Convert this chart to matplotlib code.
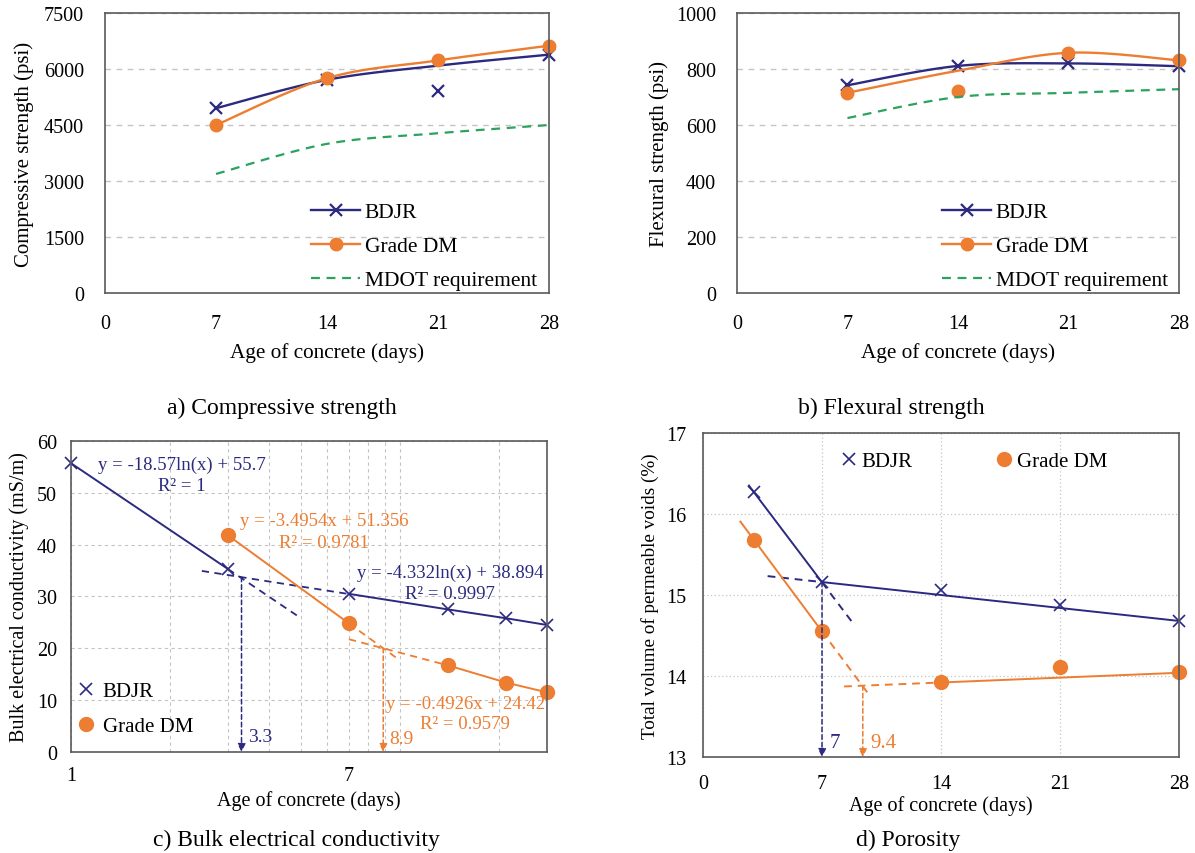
import numpy as np
import matplotlib.pyplot as plt
from matplotlib.lines import Line2D
from matplotlib.ticker import NullFormatter

plt.rcParams['font.family'] = ['Liberation Serif', 'DejaVu Serif']

NAVY = '#2b2a80'
ORANGE = '#ed7d31'
GREEN = '#2ca25f'
GRID = '#c4c4c4'
SPINE = '#5a5a5a'

# ---- panel a: compressive strength (psi)
days = [7, 14, 21, 28]
a_bdjr_pts = [4950, 5710, 5420, 6385]
a_bdjr_line = [4950, 5710, 6090, 6385]
a_dm = [4500, 5755, 6230, 6625]
a_mdot = [3190, 3995, 4280, 4500]

# ---- panel b: flexural strength (psi)
b_bdjr = [742, 811, 820, 810]
b_dm_pts = [715, 722, 858, 831]
b_dm_line = [715, 794, 858, 831]
b_mdot = [625, 700, 715, 728]

# ---- panel c: bulk electrical conductivity (mS/m)
c_bdjr_days = [1, 3, 7, 14, 21, 28]
c_bdjr = [55.7, 35.3, 30.5, 27.5, 25.8, 24.5]
c_dm_days = [3, 7, 14, 21, 28]
c_dm = [41.8, 24.8, 16.7, 13.4, 11.5]
c_bdjr_fit1 = (-18.57, 55.7)    # y = a ln(x) + b
c_bdjr_fit2 = (-4.332, 38.894)
c_bdjr_knee = 3.3
c_dm_knee = (8.9, 20.0)

# ---- panel d: porosity (%)
d_days = [3, 7, 14, 21, 28]
d_bdjr = [16.27, 15.16, 15.06, 14.88, 14.68]
d_dm = [15.68, 14.55, 13.92, 14.11, 14.05]
d_bdjr_fit1 = (-0.2775, 17.10)  # y = a x + b
d_bdjr_fit2 = (-0.02286, 15.32)
d_dm_fit1 = (-0.2825, 16.5275)
d_dm_fit2 = (0.00857, 13.80)
d_bdjr_knee = 7
d_dm_knee = 9.4


def smooth(x, y, n=40):
    """Excel-like smoothed line (Catmull-Rom through the points)."""
    x = np.asarray(x, float)
    y = np.asarray(y, float)
    px = np.concatenate([[x[0]], x, [x[-1]]])
    py = np.concatenate([[y[0]], y, [y[-1]]])
    xs, ys = [], []
    t = np.linspace(0, 1, n)
    for i in range(1, len(px) - 2):
        for p, out in ((px, xs), (py, ys)):
            p0, p1, p2, p3 = p[i - 1], p[i], p[i + 1], p[i + 2]
            c1 = p1 + (p2 - p0) / 6
            c2 = p2 - (p3 - p1) / 6
            out.extend((1 - t) ** 3 * p1 + 3 * (1 - t) ** 2 * t * c1
                       + 3 * (1 - t) * t ** 2 * c2 + t ** 3 * p2)
    return np.array(xs), np.array(ys)


def style(ax, pad=12):
    for s in ax.spines.values():
        s.set_color(SPINE)
        s.set_linewidth(1.2)
    ax.tick_params(length=0, labelsize=14.5, pad=pad, which='both')


fig = plt.figure(figsize=(11.95, 8.54), dpi=100)
ax_a = fig.add_axes([0.0879, 0.6557, 0.3715, 0.3279])
ax_b = fig.add_axes([0.6167, 0.6557, 0.3699, 0.3279])
ax_c = fig.add_axes([0.0594, 0.1183, 0.3983, 0.3642])
ax_d = fig.add_axes([0.5883, 0.1124, 0.3983, 0.3794])

# ---------------- a
ax = ax_a
ax.plot(*smooth(days, a_bdjr_line), color=NAVY, lw=1.7)
ax.plot(days, a_bdjr_pts, ls='none', marker='x', ms=9, mew=1.6, color=NAVY, clip_on=False)
ax.plot(*smooth(days, a_dm), color=ORANGE, lw=1.7)
ax.plot(days, a_dm, ls='none', marker='o', ms=9, color=ORANGE, clip_on=False)
ax.plot(*smooth(days, a_mdot), color=GREEN, lw=1.6, ls=(0, (4, 3)))
ax.set_xlim(0, 28)
ax.set_ylim(0, 7500)
ax.set_xticks(range(0, 29, 7))
ax.set_yticks(range(0, 7501, 1500))
ax.yaxis.grid(True, color=GRID, ls=(0, (4, 4)), lw=1)
ax.set_axisbelow(True)
ax.set_ylabel('Compressive strength (psi)', fontsize=15, labelpad=7)
ax.set_xlabel('Age of concrete (days)', fontsize=15.3, labelpad=7)
style(ax, pad=15)

# ---------------- b
ax = ax_b
ax.plot(*smooth(days, b_bdjr), color=NAVY, lw=1.7)
ax.plot(days, b_bdjr, ls='none', marker='x', ms=9, mew=1.6, color=NAVY, clip_on=False)
ax.plot(*smooth(days, b_dm_line), color=ORANGE, lw=1.7)
ax.plot(days, b_dm_pts, ls='none', marker='o', ms=9, color=ORANGE, clip_on=False)
ax.plot(*smooth(days, b_mdot), color=GREEN, lw=1.6, ls=(0, (4, 3)))
ax.set_xlim(0, 28)
ax.set_ylim(0, 1000)
ax.set_xticks(range(0, 29, 7))
ax.set_yticks(range(0, 1001, 200))
ax.yaxis.grid(True, color=GRID, ls=(0, (4, 4)), lw=1)
ax.set_axisbelow(True)
ax.set_ylabel('Flexural strength (psi)', fontsize=15, labelpad=5)
ax.set_xlabel('Age of concrete (days)', fontsize=15.3, labelpad=7)
style(ax, pad=15)

leg_handles = [
    Line2D([], [], color=NAVY, lw=1.7, marker='x', ms=9, mew=1.6),
    Line2D([], [], color=ORANGE, lw=1.7, marker='o', ms=9),
    Line2D([], [], color=GREEN, lw=1.6, ls=(0, (4, 3))),
]
leg_labels = ['BDJR', 'Grade DM', 'MDOT requirement']
for ax in (ax_a, ax_b):
    ax.legend(leg_handles, leg_labels, loc='lower left', bbox_to_anchor=(0.42, -0.06),
              frameon=False, fontsize=15.5, handlelength=2.3, labelspacing=0.65,
              handletextpad=0.2)

# ---------------- c
ax = ax_c
ax.set_xscale('log')
bx = np.array(c_bdjr_days, float)
ax.plot(bx[:2], c_bdjr[:2], color=NAVY, lw=1.4)
ax.plot(bx[2:], c_bdjr[2:], color=NAVY, lw=1.4)
ax.plot(bx, c_bdjr, ls='none', marker='x', ms=9, mew=1.2, color=NAVY, clip_on=False)
xx = np.array([3, 5.0])
ax.plot(xx, c_bdjr_fit1[0] * np.log(xx) + c_bdjr_fit1[1], color=NAVY, lw=1.3, ls=(0, (4, 3)))
xx = np.array([2.5, 7])
ax.plot(xx, c_bdjr_fit2[0] * np.log(xx) + c_bdjr_fit2[1], color=NAVY, lw=1.3, ls=(0, (4, 3)))
ky = c_bdjr_fit2[0] * np.log(c_bdjr_knee) + c_bdjr_fit2[1]
ax.annotate('', xy=(c_bdjr_knee, 0), xytext=(c_bdjr_knee, ky),
            arrowprops=dict(arrowstyle='-|>', color=NAVY, lw=1.1, ls=(0, (3, 2)),
                            mutation_scale=12, shrinkA=0, shrinkB=0))
ax.text(c_bdjr_knee * 1.05, 3.0, '3.3', color=NAVY, fontsize=14, va='center')

dx = np.array(c_dm_days, float)
ax.plot(dx[:2], c_dm[:2], color=ORANGE, lw=1.4)
ax.plot(dx[2:], c_dm[2:], color=ORANGE, lw=1.4)
ax.plot(dx, c_dm, ls='none', marker='o', ms=10, color=ORANGE, clip_on=False)
kx, kyy = c_dm_knee


def through(x0, y0, x1, y1, xs):
    s = (y1 - y0) / (np.log(x1) - np.log(x0))
    return y0 + s * (np.log(xs) - np.log(x0))


xx = np.array([7, 10.0])
ax.plot(xx, through(dx[1], c_dm[1], kx, kyy, xx), color=ORANGE, lw=1.3, ls=(0, (4, 3)))
xx = np.array([7, 14.0])
ax.plot(xx, through(dx[2], c_dm[2], kx, kyy, xx), color=ORANGE, lw=1.3, ls=(0, (4, 3)))
ax.annotate('', xy=(kx, 0), xytext=(kx, kyy),
            arrowprops=dict(arrowstyle='-|>', color=ORANGE, lw=1.1, ls=(0, (3, 2)),
                            mutation_scale=12, shrinkA=0, shrinkB=0))
ax.text(kx * 1.04, 2.6, '8.9', color=ORANGE, fontsize=14, va='center')

ax.text(2.18, 55.5, 'y = -18.57ln(x) + 55.7', color=NAVY, fontsize=13.5, ha='center', va='center')
ax.text(2.18, 51.5, 'R² = 1', color=NAVY, fontsize=13.5, ha='center', va='center')
ax.text(5.88, 44.7, 'y = -3.4954x + 51.356', color=ORANGE, fontsize=13.5, ha='center', va='center')
ax.text(5.88, 40.5, 'R² = 0.9781', color=ORANGE, fontsize=13.5, ha='center', va='center')
ax.text(14.2, 34.6, 'y = -4.332ln(x) + 38.894', color=NAVY, fontsize=13.5, ha='center', va='center')
ax.text(14.2, 30.6, 'R² = 0.9997', color=NAVY, fontsize=13.5, ha='center', va='center')
ax.text(15.8, 9.4, 'y = -0.4926x + 24.42', color=ORANGE, fontsize=13.5, ha='center', va='center')
ax.text(15.8, 5.4, 'R² = 0.9579', color=ORANGE, fontsize=13.5, ha='center', va='center')

ax.set_xlim(1, 28)
ax.set_ylim(0, 60)
ax.set_xticks([1, 7])
ax.set_xticklabels(['1', '7'])
ax.set_xticks([2, 3, 4, 5, 6, 8, 9, 10, 20], minor=True)
ax.xaxis.set_minor_formatter(NullFormatter())
ax.set_yticks(range(0, 61, 10))
ax.grid(True, which='both', axis='x', color=GRID, ls=(0, (3, 3)), lw=0.8)
ax.grid(True, which='major', axis='y', color=GRID, ls=(0, (3, 3)), lw=0.8)
ax.set_axisbelow(True)
ax.set_ylabel('Bulk electrical conductivity (mS/m)', fontsize=14.5, labelpad=6)
ax.set_xlabel('Age of concrete (days)', fontsize=14.5, labelpad=4)
style(ax, pad=10)
ax.legend([Line2D([], [], ls='none', marker='x', ms=9, mew=1.2, color=NAVY),
           Line2D([], [], ls='none', marker='o', ms=10, color=ORANGE)],
          ['BDJR', 'Grade DM'], loc='lower left', bbox_to_anchor=(-0.025, -0.01),
          frameon=False, fontsize=15, handlelength=0.8, handletextpad=0.4,
          labelspacing=0.75)

# ---------------- d
ax = ax_d
ax.plot(d_days, d_bdjr, ls='none', marker='x', ms=9, mew=1.2, color=NAVY, clip_on=False)
ax.plot(d_days, d_dm, ls='none', marker='o', ms=10, color=ORANGE, clip_on=False)


def seg(ax, fit, x0, x1, color, dashed=False):
    xs = np.array([x0, x1])
    ax.plot(xs, fit[0] * xs + fit[1], color=color, lw=1.4,
            ls=(0, (4, 3)) if dashed else '-')


seg(ax, d_bdjr_fit1, 2.7, 7, NAVY)
seg(ax, d_bdjr_fit1, 7, 8.8, NAVY, True)
seg(ax, d_bdjr_fit2, 7, 28, NAVY)
seg(ax, d_bdjr_fit2, 3.8, 7, NAVY, True)
seg(ax, d_dm_fit1, 2.2, 7, ORANGE)
seg(ax, d_dm_fit1, 7, 9.8, ORANGE, True)
seg(ax, d_dm_fit2, 14, 28, ORANGE)
seg(ax, d_dm_fit2, 8.3, 14, ORANGE, True)

for knee, fit, col, lab in ((d_bdjr_knee, d_bdjr_fit2, NAVY, '7'),
                            (d_dm_knee, d_dm_fit2, ORANGE, '9.4')):
    ky = fit[0] * knee + fit[1]
    ax.annotate('', xy=(knee, 13), xytext=(knee, ky),
                arrowprops=dict(arrowstyle='-|>', color=col, lw=1.1, ls=(0, (3, 2)),
                                mutation_scale=12, shrinkA=0, shrinkB=0))
    ax.text(knee + 0.45, 13.18, lab, color=col, fontsize=15, va='center')

ax.set_xlim(0, 28)
ax.set_ylim(13, 17)
ax.set_xticks(range(0, 29, 7))
ax.set_yticks(range(13, 18))
ax.grid(True, color=GRID, ls=(0, (1, 2)), lw=0.9)
ax.set_axisbelow(True)
ax.set_ylabel('Total volume of permeable voids (%)', fontsize=13.8, labelpad=5)
ax.set_xlabel('Age of concrete (days)', fontsize=14.5, labelpad=2)
style(ax, pad=12)
ax.legend([Line2D([], [], ls='none', marker='x', ms=9, mew=1.2, color=NAVY),
           Line2D([], [], ls='none', marker='o', ms=10, color=ORANGE)],
          ['BDJR', 'Grade DM'], loc='upper left', bbox_to_anchor=(0.25, 1.0),
          ncol=2, frameon=False, fontsize=15, handlelength=0.8, handletextpad=0.2,
          columnspacing=4.0)

# ---------------- captions
fig.text(282 / 1195, 1 - 408 / 854, 'a) Compressive strength', fontsize=17, ha='center', va='center')
fig.text(891 / 1195, 1 - 408 / 854, 'b) Flexural strength', fontsize=17, ha='center', va='center')
fig.text(296 / 1195, 1 - 840 / 854, 'c) Bulk electrical conductivity', fontsize=17, ha='center', va='center')
fig.text(908 / 1195, 1 - 840 / 854, 'd) Porosity', fontsize=17, ha='center', va='center')

fig.savefig('out.png', dpi=100)
